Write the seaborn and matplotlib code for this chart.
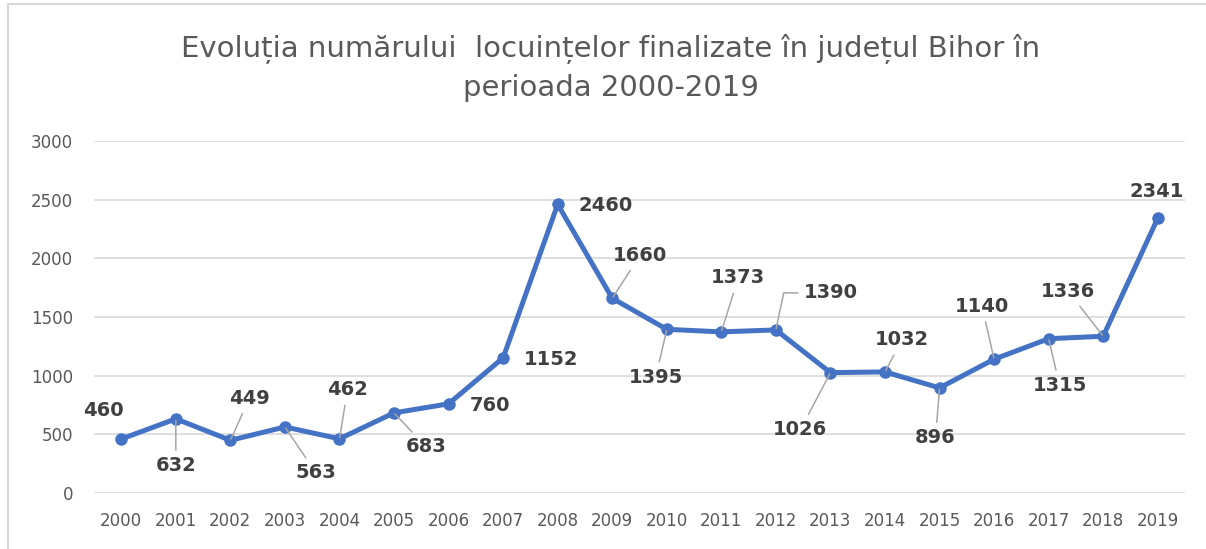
import matplotlib
matplotlib.use("Agg")
import matplotlib.pyplot as plt
from matplotlib.lines import Line2D
import pandas as pd
import seaborn as sns

years = list(range(2000, 2020))
dwellings = [460, 632, 449, 563, 462, 683, 760, 1152, 2460, 1660,
             1395, 1373, 1390, 1026, 1032, 896, 1140, 1315, 1336, 2341]

# where each value label sits relative to its marker (pixels, dx right / dy up)
label_offsets = [(-18, 29), (0, -47), (19, 42), (31, -46), (8, 49),
                 (32, -34), (41, -2), (48, -2), (48, -1), (28, 43),
                 (-11, -48), (17, 54), (55, 37), (-30, -57), (17, 32),
                 (-4, -50), (-12, 53), (11, -47), (-35, 45), (-1, 27)]
has_leader = [False, True, True, True, True, True, False, False, False, True,
              True, True, True, True, True, True, True, True, True, False]

title = ("Evoluția numărului  locuințelor finalizate în județul Bihor în\n"
         "perioada 2000-2019")

sns.set_style("white")
plt.rcParams["font.family"] = ["DejaVu Sans"]

df = pd.DataFrame({"an": years, "locuinte": dwellings})

fig = plt.figure(figsize=(12.06, 5.49), dpi=100)
ax = fig.add_axes([94 / 1206, 1 - 493 / 549, (1185 - 94) / 1206, (493 - 141) / 549])

sns.lineplot(data=df, x="an", y="locuinte", ax=ax, color="#4472C4",
             linewidth=3.6, marker="o", markersize=9, markeredgewidth=0,
             zorder=3)

ax.set_xlim(1999.5, 2019.5)
ax.set_ylim(0, 3000)
ax.set_xticks(years)
ax.set_xticklabels([str(y) for y in years])
ax.set_yticks(range(0, 3001, 500))
ax.grid(axis="y", color="#d9d9d9", linewidth=1.2)
ax.grid(axis="x", visible=False)
ax.set_axisbelow(True)
for s in ax.spines.values():
    s.set_visible(False)
ax.tick_params(axis="both", length=0, labelsize=12, labelcolor="#595959")
ax.tick_params(axis="y", pad=15)
ax.tick_params(axis="x", pad=14)
ax.set_xlabel("")
ax.set_ylabel("")

for i, (yr, v) in enumerate(zip(years, dwellings)):
    dx, dy = label_offsets[i]
    arrow = None
    if has_leader[i]:
        conn = "arc3"
        if yr == 2012:
            conn = "angle,angleA=0,angleB=78,rad=0"
        arrow = dict(arrowstyle="-", color="#a6a6a6", lw=1.1,
                     shrinkA=2, shrinkB=1, connectionstyle=conn)
    ax.annotate(str(v), xy=(yr, v), xytext=(dx, dy), textcoords="offset pixels",
                ha="center", va="center", fontsize=14, fontweight="bold",
                color="#404040", arrowprops=arrow, zorder=4)

fig.text(611 / 1206, 1 - 68 / 549, title, ha="center", va="center",
         fontsize=21, color="#595959", linespacing=1.45)

# thin frame on the top and left edge of the screenshot
fig.add_artist(Line2D([8 / 1206, 1], [1 - 4 / 549] * 2, transform=fig.transFigure,
                      color="#d9d9d9", linewidth=1.5))
fig.add_artist(Line2D([8 / 1206] * 2, [0, 1 - 4 / 549], transform=fig.transFigure,
                      color="#d9d9d9", linewidth=1.5))

fig.savefig("out.png", dpi=100)
